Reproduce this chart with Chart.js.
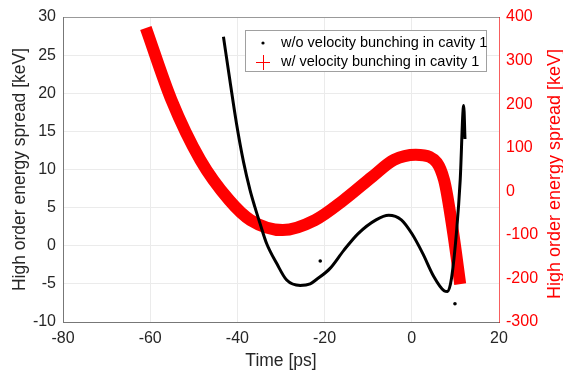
<!DOCTYPE html>
<html>
<head>
<meta charset="utf-8">
<script src="https://cdn.jsdelivr.net/npm/chart.js@4"></script>
<style>
  html, body { margin: 0; padding: 0; background: #fff; }
  #wrap { width: 563px; height: 372px; }
</style>
</head>
<body>
<div id="wrap"><canvas id="plot"></canvas></div>
<script>
// Black series: w/o velocity bunching (left axis, keV)
const timeNoVB = [-43.2, -41.7, -40.2, -38.6, -37.1, -36.0, -34.8, -33.3, -31.0, -28.7, -25.6, -23.3, -21.8, -18.8, -15.6, -12.3, -8.2, -5.3, -2.4, 0, 2.5, 5.0, 7.4, 8.2, 9.1, 10.3, 11.1, 11.9, 12.2];
const spreadNoVB = [27.4, 21.6, 16.0, 11.0, 7.3, 5.1, 2.9, 0.3, -2.3, -4.5, -5.2, -5.0, -4.4, -3.0, -0.6, 1.6, 3.4, 4.0, 3.4, 1.6, -1.0, -4.0, -5.9, -6.0, -4.3, 2.1, 8.6, 18.4, 14.0];
// a couple of stray particles
const strayTime = [-21.0, 9.9];
const straySpread = [-2.0, -7.6];

// Red series: w/ velocity bunching (right axis, keV)
const timeVB = [-61.0, -55.1, -48.5, -41.9, -37.0, -29.6, -22.2, -15.6, -9.0, -4.1, 0.9, 4.1, 7.4, 9.5, 11.1];
const spreadVB = [375, 209, 72, -20, -66, -89, -66, -20, 34, 72, 84, 79, 26, -96, -213];

const xTicks = [-80, -60, -40, -20, 0, 20];
const legendLabels = ["w/o velocity bunching in cavity 1", "w/ velocity bunching in cavity 1"];
const yTitle = "High order energy spread [keV]";

const toXY = (xs, ys) => xs.map((x, i) => ({ x: x, y: ys[i] }));
const font = "'Liberation Sans', Arial, Helvetica, sans-serif";
const axisText = "#262626";

// legend box + right title (reads bottom-to-top like the left one)
const extras = {
  id: "extras",
  afterDraw(chart) {
    const ctx = chart.ctx;
    ctx.save();
    // legend
    ctx.fillStyle = "#fff";
    ctx.fillRect(245, 30, 242, 42);
    ctx.strokeStyle = "#a0a0a0";
    ctx.lineWidth = 1;
    ctx.strokeRect(245.5, 30.5, 241, 41);
    ctx.fillStyle = "#000";
    ctx.beginPath();
    ctx.arc(263, 43, 1.6, 0, Math.PI * 2);
    ctx.fill();
    ctx.strokeStyle = "#ff0000";
    ctx.beginPath();
    ctx.moveTo(256, 62.5); ctx.lineTo(270, 62.5);
    ctx.moveTo(263.5, 55); ctx.lineTo(263.5, 70);
    ctx.stroke();
    ctx.font = "14.5px " + font;
    ctx.fillStyle = "#000";
    ctx.textBaseline = "middle";
    ctx.textAlign = "left";
    ctx.fillText(legendLabels[0], 281, 43);
    ctx.fillText(legendLabels[1], 281, 62);
    // right axis title
    ctx.translate(555, 174);
    ctx.rotate(-Math.PI / 2);
    ctx.textAlign = "center";
    ctx.fillStyle = "#ff0000";
    ctx.font = "18px " + font;
    ctx.fillText(yTitle, 0, 0);
    ctx.restore();
  }
};

new Chart(document.getElementById("plot"), {
  type: "scatter",
  data: {
    datasets: [
      {
        label: legendLabels[0],
        data: toXY(timeNoVB, spreadNoVB),
        yAxisID: "y",
        showLine: true,
        borderColor: "#000",
        borderWidth: 3,
        pointRadius: 0,
        cubicInterpolationMode: "monotone"
      },
      {
        label: "stray",
        data: toXY(strayTime, straySpread),
        yAxisID: "y",
        backgroundColor: "#000",
        borderWidth: 0,
        pointRadius: 1.8
      },
      {
        label: legendLabels[1],
        data: toXY(timeVB, spreadVB),
        yAxisID: "y2",
        showLine: true,
        borderColor: "#ff0000",
        borderWidth: 12,
        borderCapStyle: "butt",
        pointRadius: 0,
        cubicInterpolationMode: "monotone"
      }
    ]
  },
  options: {
    responsive: true,
    maintainAspectRatio: false,
    animation: false,
    layout: { padding: { top: 17, left: 0, right: 0, bottom: 0 } },
    plugins: { legend: { display: false }, tooltip: { enabled: false } },
    scales: {
      x: {
        type: "linear",
        min: -80, max: 20,
        afterBuildTicks: s => { s.ticks = xTicks.map(v => ({ value: v })); },
        afterFit: s => { s.height = 50; },
        grid: { color: "#ebebeb", drawTicks: false },
        border: { color: "#777" },
        ticks: { color: axisText, padding: 7, font: { family: font, size: 16 } },
        title: {
          display: true, text: "Time [ps]", color: axisText,
          font: { family: font, size: 17.5, lineHeight: 1 },
          padding: { top: 0, bottom: 2 }
        }
      },
      xTop: {
        type: "linear", position: "top",
        min: -80, max: 20,
        afterFit: s => { s.height = 0; },
        grid: { drawOnChartArea: false, drawTicks: false },
        border: { color: "#999" },
        ticks: { display: false }
      },
      y: {
        type: "linear", position: "left",
        min: -10, max: 30,
        ticks: { stepSize: 5, color: axisText, padding: 7, font: { family: font, size: 16 } },
        afterFit: s => { s.width = 63; },
        grid: { color: "#ebebeb", drawTicks: false },
        border: { color: "#777" },
        title: {
          display: true, text: yTitle, color: axisText,
          font: { family: font, size: 17.5, lineHeight: 1 },
          padding: { top: 11, bottom: 0 }
        }
      },
      y2: {
        type: "linear", position: "right",
        min: -300, max: 400,
        ticks: { stepSize: 100, color: "#ff0000", padding: 7, font: { family: font, size: 16 } },
        afterFit: s => { s.width = 64; },
        grid: { drawOnChartArea: false, drawTicks: false },
        border: { color: "rgba(255,0,0,0.6)" }
      }
    }
  },
  plugins: [extras]
});
</script>
</body>
</html>
